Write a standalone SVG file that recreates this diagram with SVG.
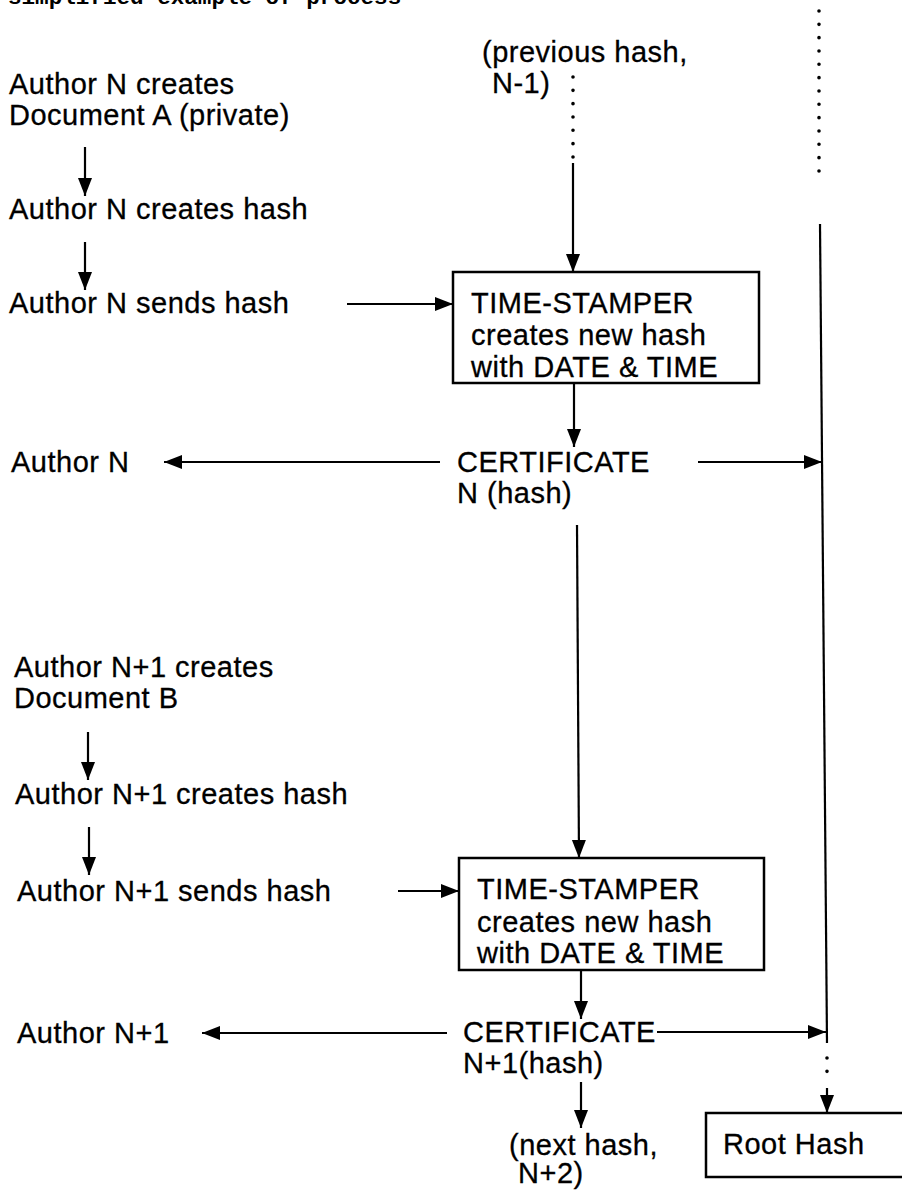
<svg xmlns="http://www.w3.org/2000/svg" width="902" height="1192" viewBox="0 0 902 1192">
<style>
.t{font-family:"Liberation Sans",Arial,Helvetica,sans-serif;font-size:29px;letter-spacing:0.5px;fill:#000;stroke:#000;stroke-width:0.3}
.ttl{font-family:"Liberation Mono","Courier New",monospace;font-weight:bold;font-size:22.6px;fill:#000}
.c{stroke:#000;stroke-width:2.2;fill:none}
.a{stroke:#000;stroke-width:2.2;fill:none;marker-end:url(#ah)}
.d{stroke:#000;stroke-width:3.6;stroke-linecap:round;stroke-dasharray:0 13.33;fill:none}
.box{fill:#fff;stroke:#000;stroke-width:2.5}
</style>
<defs>
<marker id="ah" markerUnits="userSpaceOnUse" markerWidth="19" markerHeight="15" refX="18" refY="7.5" orient="auto">
<path d="M0,0.5 L18,7.5 L0,14.5 z" fill="#000"/>
</marker>
</defs>
<rect width="902" height="1192" fill="#fff"/>
<text class="ttl" x="8" y="4">simplified example of process</text>

<g id="connectors">
<line class="a" x1="85" y1="147" x2="85" y2="196"/>
<line class="a" x1="85" y1="242" x2="85" y2="290"/>
<line class="a" x1="347" y1="304" x2="453" y2="304"/>
<line class="d" x1="573" y1="77" x2="573" y2="157"/>
<line class="a" x1="573" y1="163" x2="573" y2="272"/>
<line class="a" x1="574" y1="383" x2="574" y2="447"/>
<line class="a" x1="440" y1="462" x2="164" y2="462"/>
<line class="a" x1="698" y1="462" x2="822" y2="462"/>
<line class="d" x1="819" y1="11" x2="819" y2="184"/>
<line class="c" x1="820" y1="224" x2="827" y2="1043"/>
<line class="a" x1="577" y1="525" x2="579" y2="858"/>
<line class="a" x1="88" y1="732" x2="88" y2="780"/>
<line class="a" x1="89" y1="827" x2="89" y2="875"/>
<line class="a" x1="398" y1="891" x2="459" y2="891"/>
<line class="a" x1="581" y1="970" x2="581" y2="1019"/>
<line class="a" x1="447" y1="1033" x2="202" y2="1033"/>
<line class="a" x1="657" y1="1032" x2="826" y2="1032"/>
<line class="a" x1="581" y1="1082" x2="581" y2="1128"/>
<line class="d" x1="827" y1="1058" x2="827" y2="1073"/>
<line class="a" x1="827" y1="1088" x2="827" y2="1113"/>
</g>

<g id="docA"><text class="t" x="9" y="94">Author N creates</text><text class="t" x="9" y="125">Document A (private)</text></g>
<g id="hashN"><text class="t" x="9" y="219">Author N creates hash</text></g>
<g id="sendN"><text class="t" x="9" y="313">Author N sends hash</text></g>
<g id="prevHash"><text class="t" x="482" y="62">(previous hash,</text><text class="t" x="492" y="93">N-1)</text></g>
<g id="stamper1"><rect class="box" x="453" y="272" width="306" height="111"/>
<text class="t" x="471" y="313">TIME-STAMPER</text><text class="t" x="471" y="345">creates new hash</text><text class="t" x="471" y="377">with DATE &amp; TIME</text></g>
<g id="authorN"><text class="t" x="11" y="472">Author N</text></g>
<g id="certN"><text class="t" x="457" y="472">CERTIFICATE</text><text class="t" x="457" y="503">N (hash)</text></g>

<g id="docB"><text class="t" x="14" y="677">Author N+1 creates</text><text class="t" x="14" y="708">Document B</text></g>
<g id="hashN1"><text class="t" x="15" y="804">Author N+1 creates hash</text></g>
<g id="sendN1"><text class="t" x="17" y="901">Author N+1 sends hash</text></g>
<g id="stamper2"><rect class="box" x="459" y="858" width="305" height="112"/>
<text class="t" x="477" y="899">TIME-STAMPER</text><text class="t" x="477" y="932">creates new hash</text><text class="t" x="477" y="963">with DATE &amp; TIME</text></g>
<g id="authorN1"><text class="t" x="17" y="1043">Author N+1</text></g>
<g id="certN1"><text class="t" x="463" y="1042">CERTIFICATE</text><text class="t" x="463" y="1073">N+1(hash)</text></g>
<g id="nextHash"><text class="t" x="509" y="1155">(next hash,</text><text class="t" x="518" y="1183">N+2)</text></g>
<g id="rootHash"><rect class="box" x="706" y="1113" width="210" height="64"/><text class="t" x="723" y="1154">Root Hash</text></g>
</svg>
